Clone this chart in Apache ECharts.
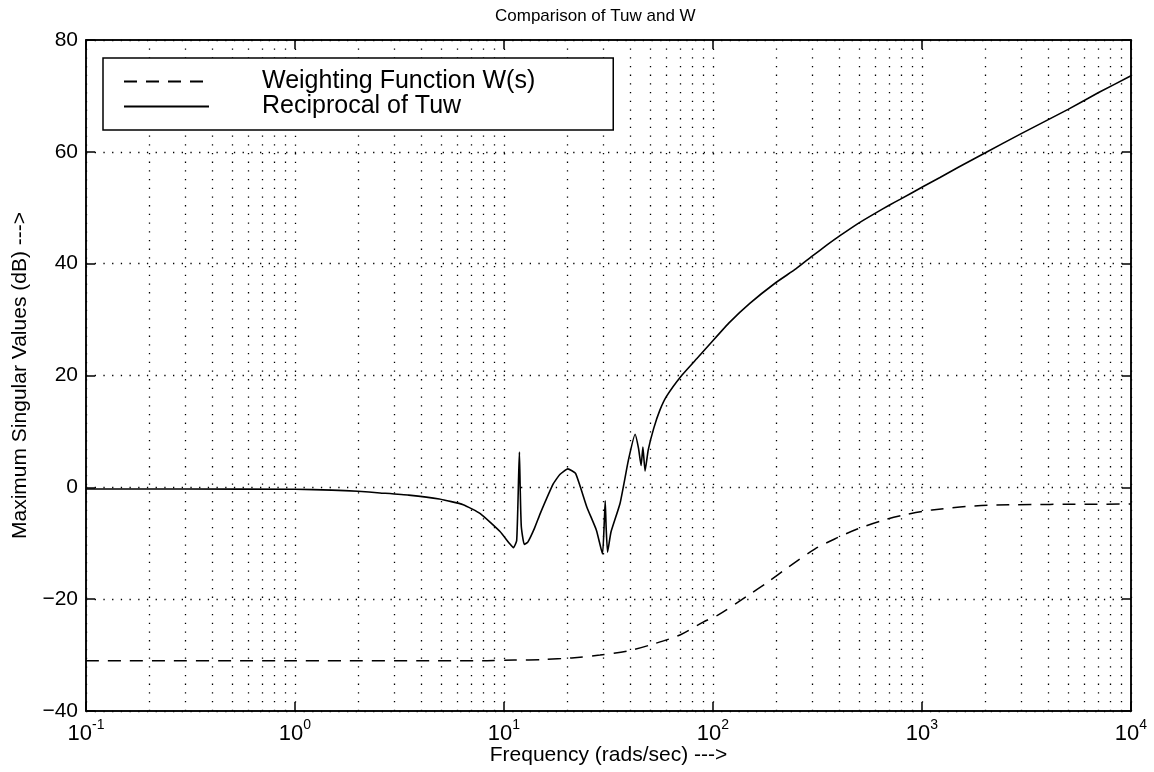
<!DOCTYPE html>
<html>
<head>
<meta charset="utf-8">
<script src="https://cdn.jsdelivr.net/npm/echarts@6/dist/echarts.min.js"></script>
<style>
  html, body { margin: 0; padding: 0; background: #fff; }
  #chart { width: 1154px; height: 772px; }
</style>
</head>
<body>
<div id="chart"></div>
<script>
// reciprocal of Tuw: [frequency, dB]
var tuwRecip = [
  [0.1, -0.3], [0.3, -0.3], [1, -0.35], [1.5, -0.5], [2, -0.7], [2.55, -1.0],
  [3.5, -1.4], [4.9, -2.1], [6.38, -3.1], [7.7, -4.7], [9.57, -7.9],
  [10.6, -10.0], [11.1, -10.8], [11.5, -9.5], [11.75, 2], [11.85, 6.3],
  [11.95, 0], [12.1, -7], [12.5, -10.2], [13, -9.8], [14, -7.3],
  [14.9, -4.7], [17.2, 0.6], [18.5, 2.3], [20.2, 3.3], [22, 2.5],
  [24.9, -3.5], [27.7, -7.7], [29.6, -11.9], [30.2, -6], [30.5, -2.4],
  [30.8, -7], [31.3, -11.6], [32.5, -8], [35.9, -2.9], [39.4, 4.9],
  [42.4, 9.5], [44, 7], [45.3, 3.9], [46.2, 7.2], [47.3, 2.9], [49, 6.7],
  [52, 10.5], [55.7, 13.8], [60, 16.3], [70.8, 20], [85, 23.3], [98.6, 26],
  [120, 29.5], [150, 32.9], [198, 36.5], [250, 39.1], [297, 41.3],
  [350, 43.3], [405, 45.0], [500, 47.3], [596, 49.0], [700, 50.5],
  [785, 51.5], [1014, 53.8], [1219, 55.4], [1500, 57.3], [2000, 59.8],
  [3000, 63.3], [5000, 67.6], [7000, 70.6], [10000, 73.6]
];

// weighting function W(s)
var weighting = [
  [0.1, -31.0], [1, -31.0], [8.3, -31.0], [11.2, -30.9], [15.4, -30.8],
  [21.1, -30.5], [28.8, -30.0], [38.8, -29.3], [52, -28.0], [69.5, -26.4],
  [89.7, -24.1], [106, -22.8], [145, -19.5], [182, -17.0], [229, -14.3],
  [308, -11.0], [394, -9.0], [494, -7.4], [665, -5.8], [830, -4.9],
  [1117, -4.05], [2070, -3.2], [10000, -3.0]
];

var decades = [0.1, 1, 10, 100, 1000];
var minorSteps = [2, 3, 4, 5, 6, 7, 8, 9];
var minorLines = [];
decades.forEach(function(d) {
  minorSteps.forEach(function(m) {
    minorLines.push({ xAxis: d * m });
  });
});

var dotted = { color: '#000', width: 1.3, type: [1.3, 7.4] };
var font = 'Liberation Sans, Arial, Helvetica, sans-serif';
var tick = { inside: true, length: 9, lineStyle: { color: '#000', width: 1.5 } };
var axisLine = { onZero: false, lineStyle: { color: '#000', width: 1.5 } };

var chart = echarts.init(document.getElementById('chart'));
chart.setOption({
  backgroundColor: '#fff',
  animation: false,
  title: {
    text: 'Comparison of Tuw and W',
    left: 490,
    top: 3,
    textStyle: { fontFamily: font, fontSize: 17, fontWeight: 'normal', color: '#000' }
  },
  legend: {
    orient: 'vertical',
    left: 103,
    top: 58,
    padding: [11, 78, 11, 20],
    itemGap: 0,
    itemWidth: 85,
    itemHeight: 14,
    borderColor: '#000',
    borderWidth: 1.5,
    borderRadius: 0,
    backgroundColor: '#fff',
    itemStyle: { opacity: 0 },
    textStyle: {
      fontFamily: font, fontSize: 25, color: '#000', lineHeight: 24,
      padding: [0, 0, 0, 48]
    },
    data: ['Weighting Function W(s)', 'Reciprocal of Tuw']
  },
  grid: {
    left: 86, right: 23, top: 40, bottom: 61,
    containLabel: false,
    outerBoundsMode: 'none',
    show: true, borderColor: '#000', borderWidth: 1.5, backgroundColor: 'transparent'
  },
  xAxis: [{
    type: 'log',
    logBase: 10,
    min: 0.1,
    max: 10000,
    name: 'Frequency (rads/sec) --->',
    nameLocation: 'middle',
    nameGap: 34,
    nameMoveOverlap: false,
    nameTextStyle: { fontFamily: font, fontSize: 21, color: '#000' },
    axisLine: axisLine,
    axisTick: tick,
    axisLabel: {
      margin: 7,
      color: '#000',
      formatter: function(v) {
        var e = Math.round(Math.log(v) / Math.LN10);
        return '{b|10}{s|' + e + '}';
      },
      rich: {
        b: { fontFamily: font, fontSize: 22, color: '#000', lineHeight: 27, verticalAlign: 'bottom' },
        s: { fontFamily: font, fontSize: 14, color: '#000', lineHeight: 14, verticalAlign: 'top' }
      }
    },
    splitLine: { show: true, lineStyle: dotted }
  }, {
    type: 'log',
    logBase: 10,
    min: 0.1,
    max: 10000,
    position: 'top',
    axisLine: axisLine,
    axisTick: tick,
    axisLabel: { show: false },
    splitLine: { show: false }
  }],
  yAxis: [{
    type: 'value',
    min: -40,
    max: 80,
    interval: 20,
    name: 'Maximum Singular Values (dB) --->',
    nameLocation: 'middle',
    nameGap: 55,
    nameMoveOverlap: false,
    nameTextStyle: { fontFamily: font, fontSize: 21, color: '#000' },
    axisLine: { show: true, onZero: false, lineStyle: { color: '#000', width: 1.5 } },
    axisTick: tick,
    axisLabel: {
      margin: 8,
      fontFamily: font,
      fontSize: 21,
      color: '#000',
      formatter: function(v) { return v < 0 ? '\u2212' + (-v) : String(v); }
    },
    splitLine: { show: true, lineStyle: dotted }
  }, {
    type: 'value',
    min: -40,
    max: 80,
    interval: 20,
    position: 'right',
    axisLine: { show: true, onZero: false, lineStyle: { color: '#000', width: 1.5 } },
    axisTick: tick,
    axisLabel: { show: false },
    splitLine: { show: false }
  }],
  series: [
    {
      name: 'Weighting Function W(s)',
      type: 'line',
      data: weighting,
      showSymbol: false,
      symbol: 'none',
      smooth: 0.3,
      lineStyle: { color: '#000', width: 1.5, type: [13, 9] },
      itemStyle: { color: '#000' },
      z: 3
    },
    {
      name: 'Reciprocal of Tuw',
      type: 'line',
      data: tuwRecip,
      showSymbol: false,
      symbol: 'none',
      smooth: 0.15,
      lineStyle: { color: '#000', width: 1.6 },
      itemStyle: { color: '#000' },
      z: 3,
      markLine: {
        silent: true,
        symbol: 'none',
        label: { show: false },
        lineStyle: dotted,
        data: minorLines,
        z: 1
      }
    }
  ]
});
</script>
</body>
</html>
